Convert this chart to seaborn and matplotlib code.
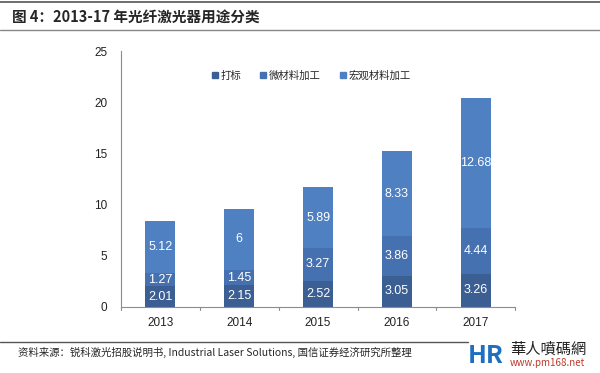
import numpy as np
import pandas as pd
import seaborn as sns
import matplotlib.pyplot as plt
import matplotlib.lines as mlines

years = ["2013", "2014", "2015", "2016", "2017"]
marking = [2.01, 2.15, 2.52, 3.05, 3.26]
micro = [1.27, 1.45, 3.27, 3.86, 4.44]
macro = [5.12, 6, 5.89, 8.33, 12.68]
series_names = ["打标", "微材料加工", "宏观材料加工"]
colors = ["#3b5e93", "#4571b0", "#4f80c2"]

sns.set_theme(style="white")
plt.rcParams["font.family"] = ["Noto Sans CJK SC", "DejaVu Sans"]

df = pd.DataFrame({"year": years, "marking": marking, "micro": micro, "macro": macro})
df["c1"] = df["marking"]
df["c2"] = df["c1"] + df["micro"]
df["c3"] = df["c2"] + df["macro"]

fig = plt.figure(figsize=(6, 3.73), dpi=100)
ax = fig.add_axes([0.2017, 0.177, 0.657, 0.686])

# stacked: draw tallest first
for col, c in zip(["c3", "c2", "c1"], colors[::-1]):
    sns.barplot(data=df, x="year", y=col, color=c, width=0.38, ax=ax,
                saturation=1, edgecolor="none")

for i in range(len(years)):
    bottoms = [0, df["c1"][i], df["c2"][i]]
    for b, v in zip(bottoms, [marking[i], micro[i], macro[i]]):
        ax.text(i, b + v / 2, f"{v:g}", ha="center", va="center", color="white",
                fontsize=9, family=["Liberation Sans", "DejaVu Sans"])

ax.set_ylim(0, 25)
ax.set_xlim(-0.5, 4.5)
ax.set_yticks([0, 5, 10, 15, 20, 25])
ax.set_xlabel("")
ax.set_ylabel("")
for s in ["top", "right"]:
    ax.spines[s].set_visible(False)
for s in ["left", "bottom"]:
    ax.spines[s].set_color("#8c8c8c")
    ax.spines[s].set_linewidth(0.8)
ax.tick_params(axis="y", length=0, labelsize=8.5, labelcolor="#222222", pad=10)
ax.tick_params(axis="x", length=0, labelsize=8.5, labelcolor="#222222", pad=7)
for t in ax.get_xticklabels() + ax.get_yticklabels():
    t.set_family(["Liberation Sans", "DejaVu Sans"])
# boundary ticks between categories
for xb in np.arange(0.5, 5.0, 1.0):
    ax.plot([xb, xb], [0, -0.25], color="#8c8c8c", lw=0.8, clip_on=False)
ax.plot([-0.5, -0.5], [0, -0.25], color="#8c8c8c", lw=0.8, clip_on=False)

handles = [mlines.Line2D([], [], marker="s", linestyle="none", color=c, markersize=4)
           for c in colors]
ax.legend(handles, series_names, loc="upper center", bbox_to_anchor=(0.48, 0.96),
          ncol=3, frameon=False, handletextpad=0.05, columnspacing=1.6,
          handlelength=1.0, prop={"family": ["Noto Sans CJK SC"], "size": 7.5})

# header and footer
fig.add_artist(mlines.Line2D([0.0, 1.0], [0.995, 0.995], color="#555555", lw=1.2))
fig.add_artist(mlines.Line2D([0.0, 1.0], [0.92, 0.92], color="#888888", lw=1.0))
fig.text(0.02, 0.955, "图 4：2013-17 年光纤激光器用途分类", fontsize=10.5,
         fontweight="bold", va="center", ha="left")
fig.add_artist(mlines.Line2D([0.0, 0.78], [0.082, 0.082], color="#555555", lw=1.0))
fig.text(0.03, 0.055, "资料来源：锐科激光招股说明书, Industrial Laser Solutions, 国信证券经济研究所整理",
         fontsize=7.5, va="center", ha="left")
fig.text(0.85, 0.065, "華人噴碼網", fontsize=11, va="center", ha="left", color="#222222")
fig.text(0.85, 0.028, "www.pm168.net", fontsize=7, va="center", ha="left", color="#c0392b")
fig.text(0.78, 0.045, "HR", fontsize=18, fontweight="bold", va="center", ha="left",
         color="#1f6fc0")

fig.savefig("out.png", dpi=100)
